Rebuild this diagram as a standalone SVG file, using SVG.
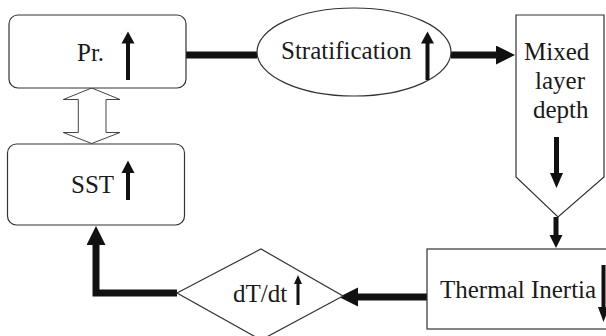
<svg xmlns="http://www.w3.org/2000/svg" width="606" height="336" viewBox="0 0 606 336">
<style>
.box{fill:#fff;stroke:#333;stroke-width:1.2}
.txt{font-family:"Liberation Serif","Times New Roman",serif;font-size:25px;fill:#1a1a1a}
.conn{fill:none;stroke:#111;stroke-width:7}
.thin{fill:none;stroke:#111;stroke-width:5}
.ind{fill:#111;stroke:none}
.dbl{fill:#fff;stroke:#444;stroke-width:1}
</style>
<defs>
<marker id="ah" markerUnits="userSpaceOnUse" markerWidth="20" markerHeight="20" refX="1" refY="9.5" orient="auto">
<path d="M0,0 L19,9.5 L0,19 Z" fill="#111"/>
</marker>
<marker id="ahs" markerUnits="userSpaceOnUse" markerWidth="14" markerHeight="14" refX="1" refY="6.5" orient="auto">
<path d="M0,0 L13,6.5 L0,13 Z" fill="#111"/>
</marker>
</defs>
<rect width="606" height="336" fill="#fff"/>
<g id="connectors">
<line class="conn" x1="186" y1="55" x2="257" y2="55"/>
<line class="conn" x1="451" y1="55" x2="497" y2="55" marker-end="url(#ah)"/>
<line class="thin" x1="556" y1="217" x2="556" y2="236" marker-end="url(#ahs)"/>
<line class="conn" x1="427" y1="297" x2="357" y2="297" marker-end="url(#ah)"/>
<polyline class="conn" points="177,293 96,293 96,244" marker-end="url(#ah)"/>
<polygon class="dbl" points="91.7,88 120,99.5 106,99.5 106,132.5 120,132.5 91.7,143.5 63.3,132.5 78.3,132.5 78.3,99.5 63.3,99.5"/>
</g>
<g id="pr">
<rect class="box" x="9" y="15" width="177" height="73" rx="9"/>
<text class="txt" x="77" y="61">Pr.</text>
<rect class="ind" x="126" y="42" width="4" height="38"/>
<polygon class="ind" points="128,31.5 134.5,43.5 121.5,43.5"/>
</g>
<g id="stratification">
<ellipse class="box" cx="354" cy="52" rx="97" ry="44"/>
<text class="txt" x="281" y="59">Stratification</text>
<rect class="ind" x="425.5" y="42" width="4" height="38"/>
<polygon class="ind" points="427.5,31.5 434,43.5 421,43.5"/>
</g>
<g id="mixed">
<polygon class="box" points="516,15 604,15 604,177 558,217 516,177"/>
<text class="txt" x="524" y="60">Mixed</text>
<text class="txt" x="535" y="89">layer</text>
<text class="txt" x="533" y="118">depth</text>
<rect class="ind" x="554" y="137" width="5" height="37"/>
<polygon class="ind" points="556.5,188 563,173 550,173"/>
</g>
<g id="thermal">
<rect class="box" x="427" y="249" width="190" height="80"/>
<text class="txt" x="440" y="298">Thermal Inertia</text>
<rect class="ind" x="601.5" y="265" width="4" height="43"/>
<polygon class="ind" points="603.5,322 609,307 598,307"/>
</g>
<g id="dtdt">
<polygon class="box" points="177,293 261,249 343,296 261,340"/>
<text class="txt" x="233" y="302">dT/dt</text>
<rect class="ind" x="296.5" y="282" width="3" height="23"/>
<polygon class="ind" points="298,275 302,284 294,284"/>
</g>
<g id="sst">
<rect class="box" x="7.5" y="144" width="177" height="81" rx="9"/>
<text class="txt" x="71" y="193">SST</text>
<rect class="ind" x="126" y="172" width="4" height="28"/>
<polygon class="ind" points="128,160.5 134.5,173 121.5,173"/>
</g>
</svg>
